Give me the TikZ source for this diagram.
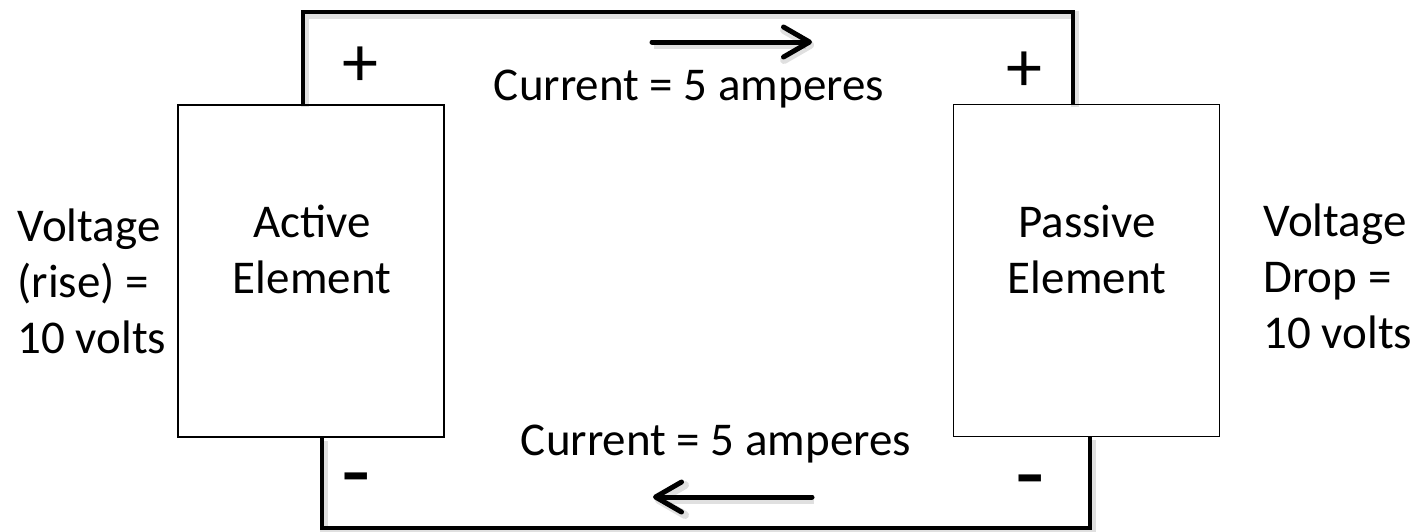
\documentclass[tikz,border=0pt]{standalone}
\usepackage{fontspec}
\setmainfont{Carlito}
\usetikzlibrary{arrows.meta}

\begin{document}
\begin{tikzpicture}[x=0.5pt,y=-0.5pt,
  elem/.style={draw, line width=0.8pt, inner sep=0pt,
    minimum width=133pt, minimum height=166pt},
  shade/.style={preaction={draw=black, opacity=0.12, line width=4pt,
    transform canvas={shift={(2,3)}}}},
  wire/.style={line width=2.4pt, shade},
  flow/.style={line width=2.5pt, line cap=round, shade,
    -{Straight Barb[length=13pt, width=15pt, line cap=round, line join=round]}},
  lbl/.style={font=\fontsize{23.5}{28}\selectfont, inner sep=0pt},
  plus/.style={font=\fontsize{36}{40}\selectfont, inner sep=0pt},
  minus/.style={font=\fontsize{48}{50}\selectfont, inner sep=0pt,
    text height=14pt, text depth=0pt, anchor=base}]
\useasboundingbox (0,0) rectangle (1416,531);

% circuit elements
\node[elem] (act) at (311,271) {};
\node[elem] (pas) at (1086.5,270.5) {};
\node[lbl, align=center, anchor=base] (actlbl) at (312,293) {Active\\Element};
\node[lbl, align=center, anchor=base] (paslbl) at (1087,293) {Passive\\Element};

% wire corners
\coordinate (tl) at (303,12);
\coordinate (tr) at (1073,12);
\coordinate (bl) at (322,528);
\coordinate (br) at (1090,528);

% connecting wires
\draw[wire] (tl |- act.north) -- (tl) -- (tr) -- (tr |- pas.north);
\draw[wire] (bl |- act.south) -- (bl) -- (br) -- (br |- pas.south);

% polarity marks
\node[plus] (pa) at (360,67) {+};
\node[plus] (pp) at (1024,72) {+};
\node[minus] (ma) at (356,503) {-};
\node[minus] (mp) at (1030,505) {-};

% current direction
\coordinate (t1) at (652,42);
\coordinate (t2) at (812,42);
\coordinate (b1) at (812,497);
\coordinate (b2) at (653,497);
\draw[flow] (t1) -- (t2);
\draw[flow] (b1) -- (b2);
\node[lbl, anchor=base] (ctop) at (689,100) {Current = 5 amperes};
\node[lbl, anchor=base] (cbot) at (716,455) {Current = 5 amperes};

% voltage labels
\node[lbl, align=left, anchor=base west] (vleft) at (17,353) {Voltage\\(rise) =\\10 volts};
\node[lbl, align=left, anchor=base west] (vright) at (1263,348) {Voltage\\Drop =\\10 volts};
\end{tikzpicture}
\end{document}
